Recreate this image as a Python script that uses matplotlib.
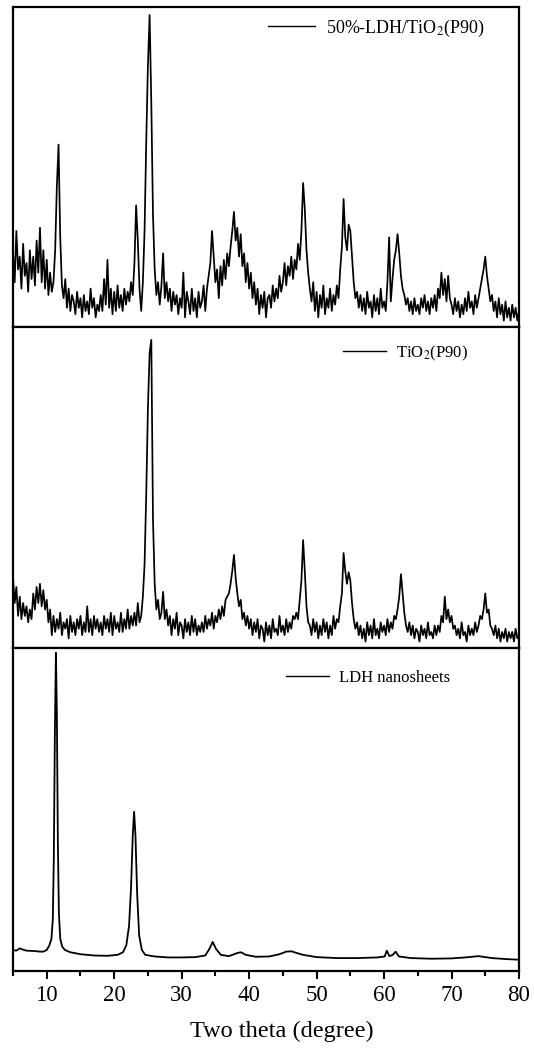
import numpy as np
import matplotlib
matplotlib.use("Agg")
from matplotlib import pyplot as plt
from matplotlib.ticker import MultipleLocator

plt.rcParams['font.family'] = ['Liberation Serif', 'DejaVu Serif']
plt.rcParams['mathtext.fontset'] = 'stix'

# two theta grid for the noisy scans (0.25 deg step, 5..80)
two_theta = np.linspace(5, 80, 301)

# 50%-LDH/TiO2(P90), intensity (a.u.), 4 points per degree
composite = [
    24, 14, 30, 18,   22, 12, 26, 16,   20, 11, 24, 15,   22, 13, 27, 17,   # 5-8
    31, 14, 24, 12,   21, 10, 17, 11,   14, 24, 44, 57,   28, 13, 9, 15,    # 9-12
    6, 12, 5, 10,     8, 4, 11, 6,      9, 3, 10, 5,      8, 4, 12, 6,      # 13-16
    9, 3, 7, 5,       10, 5, 15, 7,     21, 6, 12, 4,     11, 5, 13, 6,     # 17-20
    10, 5, 12, 7,     11, 8, 14, 10,    20, 38, 27, 12,   5, 14, 30, 58,    # 21-24
    82, 97.5, 70, 35, 18, 10, 14, 7,    13, 23, 9, 14,    8, 12, 5, 11,     # 25-28
    7, 10, 4, 9,      6, 17, 3, 11,     8, 4, 12, 5,      9, 3, 11, 6,      # 29-32
    8, 13, 5, 12,     16, 20, 30, 22,   14, 18, 9, 19,    13, 21, 15, 23,   # 33-36
    19, 25, 30, 36,   27, 31, 22, 29,   19, 23, 14, 20,   12, 17, 9, 14,    # 37-40
    7, 12, 4, 10,     6, 11, 3, 9,      10, 6, 13, 8,     12, 9, 16, 11,    # 41-44
    14, 20, 13, 19,   16, 22, 15, 21,   18, 26, 21, 30,   45, 37, 24, 17,   # 45-48
    12, 8, 14, 5,     11, 3, 10, 6,     13, 4, 9, 6,      12, 5, 10, 7,     # 49-52
    13, 9, 18, 25,    40, 28, 24, 32,   30, 22, 14, 9,    11, 6, 10, 5,     # 53-56
    9, 4, 11, 6,      8, 3, 10, 5,      9, 4, 12, 6,      8, 5, 14, 28,     # 57-60
    8, 15, 21, 24,    29, 23, 16, 12,   10, 7, 9, 5,      8, 4, 9, 5,       # 61-64
    7, 4, 9, 6,       10, 5, 8, 4,      9, 6, 10, 5,      12, 9, 17, 10,    # 65-68
    15, 8, 16, 9,     7, 4, 9, 5,       8, 3, 7, 4,       9, 5, 11, 6,      # 69-72
    8, 4, 10, 6,      9, 12, 15, 18,    22, 16, 12, 8,    10, 5, 8, 3,      # 73-76
    9, 4, 7, 2,       8, 3, 6, 2,       7, 3, 6, 2,       5,                # 77-80
]

# TiO2(P90)
tio2 = [
    22, 14, 19, 10,   16, 9, 14, 10,    13, 8, 12, 9,     17, 12, 19, 14,   # 5-8
    20, 13, 18, 12,   15, 8, 12, 4,     10, 5, 9, 6,      11, 4, 8, 6,      # 9-12
    9, 3, 10, 5,      8, 4, 9, 6,       10, 4, 8, 5,      13, 5, 9, 4,      # 13-16
    10, 6, 9, 5,      8, 4, 10, 6,      9, 5, 11, 4,      10, 6, 8, 5,      # 17-20
    11, 5, 9, 6,      12, 6, 10, 7,     11, 7, 14, 8,     10, 16, 26, 48,   # 21-24
    75, 92, 96, 40,   20, 12, 15, 9,    11, 17.5, 9, 12,  7, 10, 4, 9,      # 25-28
    6, 11, 4, 8,      7, 3, 9, 5,       8, 4, 10, 5,      9, 4, 7, 5,       # 29-32
    8, 5, 10, 6,      9, 7, 11, 6,      10, 8, 12, 9,     13, 10, 15, 16,   # 33-36
    17, 20, 24, 29,   22, 17, 13, 15,   9, 11, 7, 10,     6, 9, 4, 8,       # 37-40
    5, 9, 3, 7,       6, 2, 8, 4,       7, 3, 9, 5,       6, 4, 10, 5,      # 41-44
    7, 4, 9, 5,       8, 6, 10, 9,      11, 9, 15, 21,    33.6, 24, 13, 8,  # 45-48
    7, 4, 9, 5,       8, 3, 7, 4,       9, 5, 8, 3,       7, 4, 10, 6,      # 49-52
    9, 8, 13, 17,     29.6, 24, 20, 23.6, 21, 14, 9, 6,   8, 4, 7, 3,       # 53-56
    6, 2, 8, 4,       7, 3, 9, 4,       6, 3, 8, 5,       7, 4, 9, 5,       # 57-60
    8, 6, 10, 9,      12, 16, 23, 17,   11, 7, 5, 8,      4, 7, 3, 6,       # 61-64
    5, 2, 7, 4,       6, 3, 8, 4,       5, 3, 7, 4,       7, 5, 10, 8,      # 65-68
    16, 9, 12, 8,     10, 6, 7, 4,      6, 3, 8, 4,       5, 2, 7, 4,       # 69-72
    6, 4, 8, 5,       7, 10, 9, 12,     17, 11, 12, 7,    6, 4, 7, 3,       # 73-76
    6, 2, 5, 3,       6, 2, 5, 3,       5, 2, 6, 3,       4,                # 77-80
]

# LDH nanosheets (smooth scan, sampled denser around the sharp reflections)
ldh_theta = [5, 5.5, 6, 6.5, 7, 8, 9, 9.5, 10, 10.4, 10.7, 10.9, 11.05, 11.2, 11.36,
             11.5, 11.65, 11.8, 12.0, 12.3, 12.7, 13.5, 15, 17, 19, 20.5, 21.3, 21.8,
             22.2, 22.5, 22.75, 22.95, 23.15, 23.4, 23.7, 24.1, 24.6, 26, 28, 30, 32,
             33.5, 34.1, 34.6, 35.1, 35.8, 37, 38.3, 38.8, 39.5, 41, 43, 44.5, 45.5,
             46.3, 47, 48, 50, 53, 56, 59, 60.1, 60.4, 60.8, 61.3, 61.7, 62.2, 64, 67,
             70, 72, 74, 76, 78, 80]
ldh = [6.5, 6.3, 7.0, 6.6, 6.3, 6.2, 6.0, 6.0, 6.5, 8, 10, 16, 35, 72, 98.5,
       80, 40, 18, 10, 7.5, 6.5, 5.8, 5.2, 4.8, 4.7, 5.0, 5.8, 8,
       14, 26, 42, 49.3, 42, 24, 11, 6.5, 5, 4.5, 4.2, 4.2, 4.3,
       4.8, 6.8, 9, 6.8, 5, 4.6, 5.6, 5.8, 5.0, 4.4, 4.5, 5.2, 6.0,
       6.1, 5.6, 5.0, 4.3, 4.0, 4.0, 4.2, 4.5, 6.3, 4.6, 5.0, 6.0, 4.5, 4.0, 3.8,
       3.9, 4.2, 4.6, 4.0, 3.7, 3.5]

labels = ['50%-LDH/TiO$_2$(P90)', 'TiO$_2$(P90)', 'LDH nanosheets']
xticks = [10, 20, 30, 40, 50, 60, 70, 80]

W, H = 534, 1055
fig = plt.figure(figsize=(W / 100, H / 100), dpi=100)

x0, x1 = 13, 519
left = x0 / W
width = (x1 - x0) / W
# (top_px, bottom_px) of each panel
panels = [(7, 327), (327, 648), (648, 971)]
# legend anchor (x px of line start, y px of text centre)
legend_pos = [(268, 28), (343, 353), (286, 678)]
legend_size = [13, 12, 12]

series = [(two_theta, composite, 1.25), (two_theta, tio2, 1.25), (ldh_theta, ldh, 1.3)]

axes = []
for i, ((top, bot), (xs, ys, lw)) in enumerate(zip(panels, series)):
    ax = fig.add_axes([left, (H - bot) / H, width, (bot - top) / H])
    ax.plot(xs, ys, color='black', lw=lw, label=labels[i])
    ax.set_xlim(5, 80)
    ax.set_ylim(0, 100)
    ax.set_yticks([])
    for s in ax.spines.values():
        s.set_linewidth(1.6)
    lx, ly = legend_pos[i]
    leg = ax.legend(loc='center left', frameon=False, fontsize=legend_size[i],
                    handlelength=2.6, handletextpad=0.6, borderaxespad=0, borderpad=0,
                    bbox_to_anchor=((lx - x0) / (x1 - x0), (bot - ly) / (bot - top)))
    for h in leg.get_lines():
        h.set_linewidth(1.0)
    if i < 2:
        ax.set_xticks([])
    axes.append(ax)

ax = axes[-1]
ax.set_xticks(xticks)
ax.xaxis.set_minor_locator(MultipleLocator(5))
ax.tick_params(axis='x', which='major', direction='out', length=6, width=1.5, labelsize=16.5, pad=4)
ax.tick_params(axis='x', which='minor', direction='out', length=3.5, width=1.5)
ax.set_xlabel('Two theta (degree)', fontsize=17.5)
ax.xaxis.set_label_coords((282 - x0) / (x1 - x0), -0.155)

fig.savefig('out.png', dpi=100)
